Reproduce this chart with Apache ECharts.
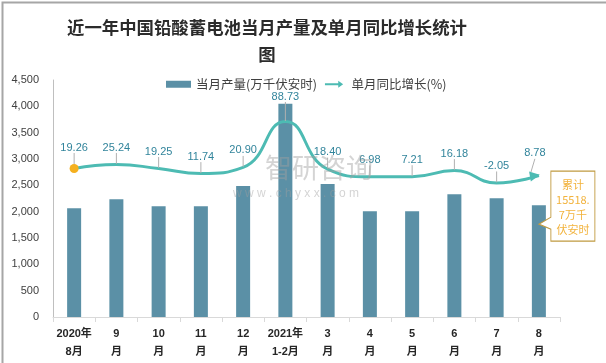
<!DOCTYPE html>
<html>
<head>
<meta charset="utf-8">
<script src="https://cdn.jsdelivr.net/npm/echarts@6/dist/echarts.min.js"></script>
<style>
html,body{margin:0;padding:0;background:#fff;}
#c{width:606px;height:363px;}
</style>
</head>
<body>
<div id="c"></div>
<script>
var categories = ['2020年\n8月','9\n月','10\n月','11\n月','12\n月','2021年\n1-2月','3\n月','4\n月','5\n月','6\n月','7\n月','8\n月'];
var output = [2067, 2238, 2105, 2105, 2485, 4050, 2523, 2009, 2009, 2333, 2257, 2124];
var yoy = [19.26, 25.24, 19.25, 11.74, 20.90, 88.73, 18.40, 6.98, 7.21, 16.18, -2.05, 8.78];
var yTicks = [0, 500, 1000, 1500, 2000, 2500, 3000, 3500, 4000, 4500];
var titleText = '近一年中国铅酸蓄电池当月产量及单月同比增长统计\n图';
var barName = '当月产量(万千伏安时)';
var lineName = '单月同比增长(%)';
var noteText = '累计\n15518.\n7万千\n伏安时';

var chart = echarts.init(document.getElementById('c'), null, {renderer: 'canvas'});
var lastIdx = yoy.length - 1;
var lineData = yoy.map(function (v, i) {
  var d = {value: v};
  if (i === 0) {
    d.symbol = 'circle'; d.symbolSize = 9;
    d.itemStyle = {color: '#F5B01E'};
  } else if (i === lastIdx) {
    d.symbol = 'triangle'; d.symbolSize = [10, 10]; d.symbolRotate = -80;
    d.symbolOffset = [-4, 0];
  } else {
    d.symbol = 'circle'; d.symbolSize = 1;
  }
  return d;
});

var option = {
  animation: false,
  textStyle: {fontFamily: '"Liberation Sans", "Noto Sans CJK SC", sans-serif'},
  title: {
    text: titleText,
    left: 262, top: 9, textAlign: 'center',
    textStyle: {fontFamily: '"Noto Sans CJK SC", serif', fontSize: 17.4, fontWeight: 'bold', color: '#2b2b2b', lineHeight: 27}
  },
  legend: {
    left: 161, top: 73, itemWidth: 25, itemHeight: 7, itemGap: 8,
    textStyle: {fontSize: 12.5, color: '#404040', fontFamily: '"Noto Sans CJK SC", sans-serif'},
    data: [
      {name: barName, icon: 'rect'},
      {name: lineName, icon: 'path://M0,3.5 L19,3.5 L19,0 L26,5 L19,10 L19,6.5 L0,6.5 Z', itemStyle: {color: '#4DBBB3'}}
    ]
  },
  grid: {left: 53, right: 46, top: 80, bottom: 46},
  xAxis: {
    type: 'category', data: categories,
    axisLine: {lineStyle: {color: '#d9d9d9', width: 1}},
    axisTick: {show: true, interval: 0, length: 5, lineStyle: {color: '#d9d9d9'}},
    axisLabel: {interval: 0, fontSize: 11, fontWeight: 'bold', color: '#262626', lineHeight: 18, margin: 8}
  },
  yAxis: [
    {
      type: 'value', min: yTicks[0], max: yTicks[yTicks.length - 1], interval: 500,
      axisLine: {show: true, lineStyle: {color: '#bfbfbf'}},
      axisTick: {show: false},
      splitLine: {show: false},
      axisLabel: {fontSize: 11, color: '#404040', margin: 14,
        formatter: function (v) { return v.toLocaleString('en-US'); }}
    },
    {type: 'value', min: -200, max: 150, show: false, splitLine: {show: false}}
  ],
  series: [
    {
      name: barName, type: 'bar', data: output, barWidth: 14,
      itemStyle: {color: '#5B90A6'},
      z: 2,
      markPoint: {
        z: 5,
        data: [{
          coord: [lastIdx, output[lastIdx]],
          symbol: 'path://M12,0 L56,0 L56,70 L12,70 L12,58 L0,53 L12,46 Z',
          symbolSize: [56, 70],
          symbolOffset: [28, 1],
          itemStyle: {color: '#ffffff', borderColor: '#C09A40', borderWidth: 1},
          label: {show: true, position: 'inside', offset: [6, 1], formatter: noteText,
            color: '#F2B33D', fontSize: 11, lineHeight: 15, fontFamily: '"Noto Sans CJK SC", sans-serif'}
        }]
      }
    },
    {
      name: lineName, type: 'line', yAxisIndex: 1, data: lineData, smooth: 0.5,
      showSymbol: true,
      color: '#4DBBB3',
      lineStyle: {color: '#4DBBB3', width: 3},
      itemStyle: {color: '#4DBBB3'},
      z: 3,
      label: {show: true, position: 'top', distance: 11, fontSize: 11, color: '#31849B',
        formatter: function (p) { return Number(p.value).toFixed(2); }},
      labelLayout: function (p) { return p.dataIndex === 5 ? {dy: -8} : {}; },
      labelLine: {show: true, lineStyle: {color: '#b0b0b0', width: 1}}
    }
  ],
  graphic: [
    {type: 'text', left: 265, top: 154, silent: true, z: 10,
      style: {text: '智研咨询', fontSize: 27, fill: 'rgba(160,160,160,0.45)', fontFamily: '"Noto Sans CJK SC", sans-serif'}},
    {type: 'text', left: 233, top: 188, silent: true, z: 10,
      style: {text: 'w w w . c h y x x . c o m', fontSize: 12, fill: 'rgba(160,160,160,0.45)', fontFamily: '"Liberation Sans", sans-serif'}},
    {type: 'rect', left: 0, top: 0, silent: true, z: 20,
      shape: {x: 0, y: 0, width: 605, height: 362},
      style: {fill: 'none', stroke: '#a6a6a6', lineWidth: 2}}
  ]
};
chart.setOption(option);
</script>
</body>
</html>
